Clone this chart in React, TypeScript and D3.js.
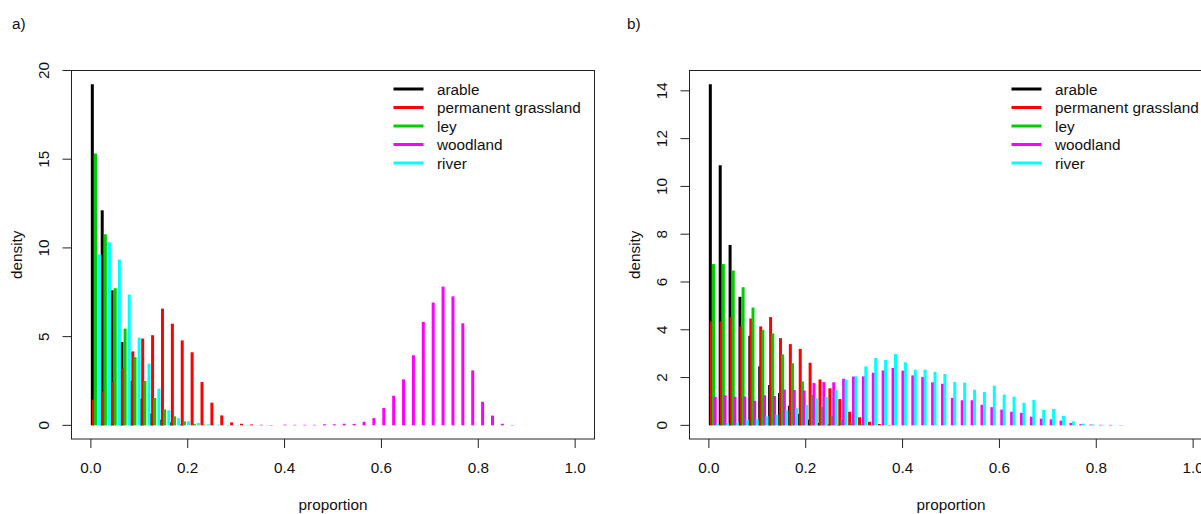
import React from 'react';
import { format, max, scaleLinear } from 'd3';

// land-use classes, in drawing order (later ones sit on top)
const LAND_USES = ['arable', 'permanent grassland', 'ley', 'woodland', 'river'];
const COLOURS = ['#000000', '#ff0000', '#00cd00', '#ff00ff', '#00ffff'];
// each class is nudged a little to the right inside its bin
const OFFSETS = [0.003, 0.005, 0.0095, 0.013, 0.018];
const N_BINS = 49;

// a) densities per bin (bin k starts at k / 49)
const arableA = [19.23, 12.12, 7.61, 4.7, 2.5, 1.5, 0.66, 0.32, 0.17, 0.04];
const grasslandA = [
  1.45, 1.92, 2.48, 3.2, 4.17, 4.89, 5.08, 6.58, 5.73, 4.79, 4.12, 2.44, 1.28, 0.56, 0.17,
  0.09, 0.05, 0.03, 0.02,
];
const leyA = [15.32, 10.77, 7.73, 5.45, 3.85, 2.5, 1.54, 0.9, 0.51, 0.23, 0.09, 0.04];
const woodlandA = [
  0, 0, 0, 0, 0, 0, 0, 0, 0, 0, 0, 0, 0, 0, 0, 0, 0, 0, 0,
  0.04, 0.03, 0.03, 0.03, 0.06, 0.06, 0.09, 0.08, 0.2, 0.41, 0.98, 1.67, 2.59, 3.95, 5.83,
  6.92, 7.82, 7.27, 5.75, 3.1, 1.33, 0.55, 0.09, 0.02,
];
const riverA = [
  9.64, 10.32, 9.34, 7.37, 4.94, 3.48, 2.07, 0.85, 0.41, 0.23, 0.13, 0.06, 0.04, 0.03, 0.02,
  0.02, 0.01, 0.01,
];

// b)
const arableB = [14.28, 10.89, 7.55, 5.38, 3.75, 2.47, 1.69, 1.35, 0.82, 0.48, 0.24, 0.1, 0.04, 0.02];
const grasslandB = [
  4.35, 4.35, 4.53, 4.14, 4.47, 4.14, 4.53, 3.65, 3.4, 3.2, 2.62, 1.92, 1.55, 1.1, 0.57, 0.34,
  0.15, 0.06, 0.02,
];
const leyB = [
  6.75, 6.75, 6.48, 5.78, 4.93, 4.0, 3.85, 2.97, 2.6, 1.84, 1.28, 0.78, 0.39, 0.25, 0.12, 0.06,
  0.02,
];
const woodlandB = [
  1.2, 1.26, 1.2, 1.21, 1.03, 1.26, 1.23, 1.5, 1.48, 1.46, 1.77, 1.81, 1.8, 1.95, 2.04, 2.05,
  2.2, 2.3, 2.4, 2.29, 2.09, 2.02, 1.8, 1.74, 1.15, 1.05, 1.05, 0.86, 0.76, 0.66, 0.57, 0.52,
  0.36, 0.28, 0.25, 0.2, 0.1, 0.05, 0.03, 0.02, 0.02, 0.01,
];
const riverB = [
  0.06, 0.1, 0.12, 0.24, 0.28, 0.38, 0.45, 0.65, 0.72, 0.86, 1.14, 1.2, 1.49, 1.91, 2.05,
  2.47, 2.82, 2.74, 2.99, 2.64, 2.33, 2.33, 2.24, 2.15, 1.82, 1.79, 1.49, 1.4, 1.66, 1.29,
  1.2, 0.95, 1.06, 0.65, 0.68, 0.4, 0.17, 0.07, 0.04, 0.02, 0.01, 0.01,
];

const X_TICKS = [0, 0.2, 0.4, 0.6, 0.8, 1.0];
const Y_TICKS_A = [0, 5, 10, 15, 20];
const Y_TICKS_B = [0, 2, 4, 6, 8, 10, 12, 14];

const FONT = '"Liberation Sans", Arial, Helvetica, sans-serif';
const FS = 15.3;

type Box = { left: number; right: number; top: number; bottom: number };

const Panel: React.FC<{
  tag: string;
  series: number[][];
  yTicks: number[];
  box: Box;
  tagX: number;
}> = ({ tag, series, yTicks, box, tagX }) => {
  // R style limits: data range stretched by 4% each side
  const yMax = max(series, s => max(s) ?? 0) ?? 1;
  const yPad = yMax * 0.04;
  const x = scaleLinear().domain([-0.04, 1.04]).range([box.left, box.right]);
  const y = scaleLinear().domain([-yPad, yMax + yPad]).range([box.bottom, box.top]);
  const fmt = format('.1f');
  const midY = (box.top + box.bottom) / 2;
  const midX = (box.left + box.right) / 2;

  return (
    <g fontFamily={FONT} fontSize={FS} fill="#111">
      <text x={tagX} y={29}>{tag}</text>

      {series.map((vals, s) => (
        <g key={s} stroke={COLOURS[s]} strokeWidth={3}>
          {vals.map((v, k) =>
            v > 0 ? (
              <line
                key={k}
                x1={x(k / N_BINS + OFFSETS[s])}
                x2={x(k / N_BINS + OFFSETS[s])}
                y1={y(0)}
                y2={y(v)}
              />
            ) : null,
          )}
        </g>
      ))}

      <rect
        x={box.left}
        y={box.top}
        width={box.right - box.left}
        height={box.bottom - box.top}
        fill="none"
        stroke="#222"
        strokeWidth={1}
      />

      {yTicks.map(t => (
        <g key={t}>
          <line x1={box.left - 9} x2={box.left} y1={y(t)} y2={y(t)} stroke="#222" />
          <text
            transform={`translate(${box.left - 23},${y(t)}) rotate(-90)`}
            textAnchor="middle"
          >
            {t}
          </text>
        </g>
      ))}
      {X_TICKS.map(t => (
        <g key={t}>
          <line x1={x(t)} x2={x(t)} y1={box.bottom} y2={box.bottom + 9} stroke="#222" />
          <text x={x(t)} y={box.bottom + 34} textAnchor="middle">
            {fmt(t)}
          </text>
        </g>
      ))}

      <text x={midX} y={510} textAnchor="middle">proportion</text>
      <text transform={`translate(${box.left - 50},${midY}) rotate(-90)`} textAnchor="middle">
        density
      </text>

      {LAND_USES.map((name, i) => {
        const ly = 89 + i * 18.5;
        return (
          <g key={name}>
            <line
              x1={box.right - 201}
              x2={box.right - 171}
              y1={ly}
              y2={ly}
              stroke={COLOURS[i]}
              strokeWidth={3}
            />
            <text x={box.right - 157.5} y={ly + 5.5}>{name}</text>
          </g>
        );
      })}
    </g>
  );
};

export default function App() {
  return (
    <svg
      width={1201}
      height={514}
      style={{ position: 'absolute', left: 0, top: 0, background: '#fff' }}
    >
      <rect width={1201} height={514} fill="#fff" />
      <Panel
        tag="a)"
        tagX={12}
        series={[arableA, grasslandA, leyA, woodlandA, riverA]}
        yTicks={Y_TICKS_A}
        box={{ left: 71.5, right: 594.5, top: 70.5, bottom: 439 }}
      />
      <Panel
        tag="b)"
        tagX={627}
        series={[arableB, grasslandB, leyB, woodlandB, riverB]}
        yTicks={Y_TICKS_B}
        box={{ left: 689.5, right: 1212.5, top: 70.5, bottom: 439 }}
      />
    </svg>
  );
}
